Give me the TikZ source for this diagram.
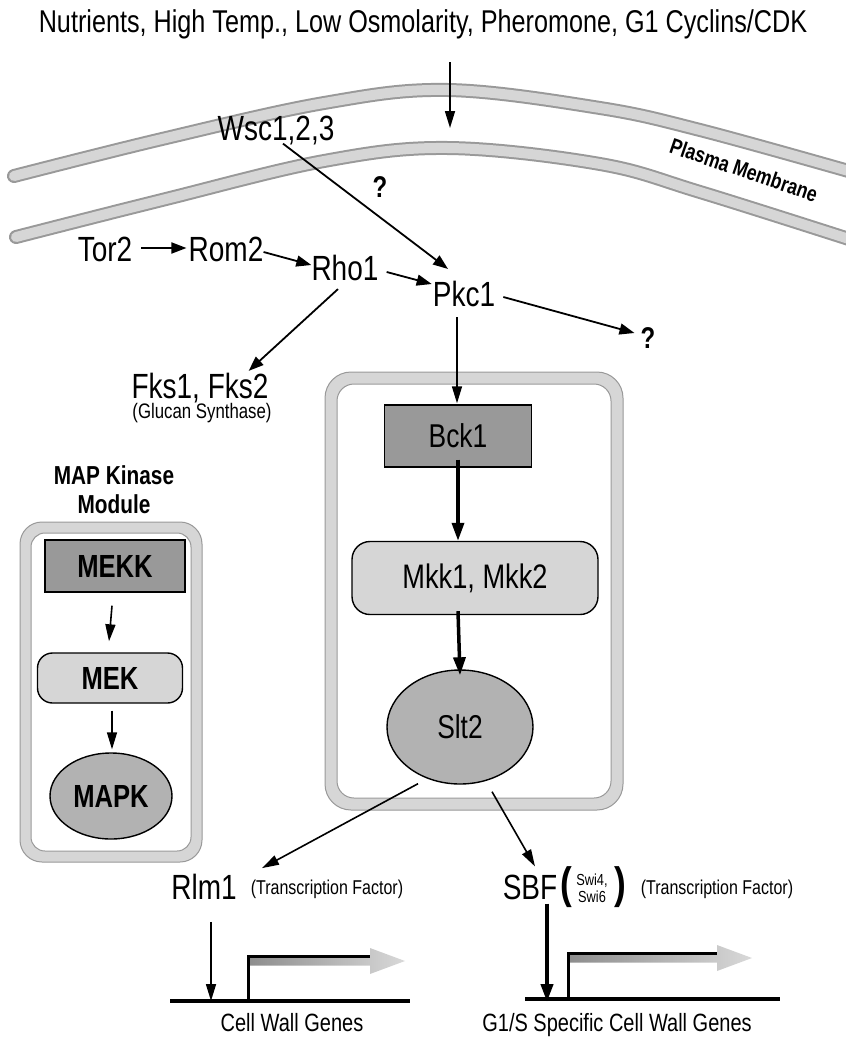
\documentclass[tikz,border=0pt]{standalone}
\usepackage{fontspec}
\setmainfont{Liberation Sans}[FakeStretch=0.8]
\usetikzlibrary{arrows.meta,shapes.geometric}
\definecolor{bandline}{gray}{0.60}
\definecolor{bandfill}{gray}{0.84}
\definecolor{darkfill}{gray}{0.60}
\definecolor{midfill}{gray}{0.70}
\definecolor{lightfill}{gray}{0.84}
\tikzset{
  lbl/.style={font=\fontsize{35}{37}\selectfont, inner sep=0pt},
  smalltxt/.style={font=\fontsize{20}{22}\selectfont, inner sep=0pt},
  genetxt/.style={font=\fontsize{25}{27}\selectfont, inner sep=0pt, anchor=base},
  qmark/.style={font=\bfseries\fontsize{30}{32}\selectfont, inner sep=0pt},
  arr/.style={-{Triangle[length=15pt,width=11pt]}, line width=1.8pt},
  thinarr/.style={-{Triangle[length=17pt,width=10pt]}, line width=1.6pt},
  thickarr/.style={-{Triangle[length=18pt,width=12pt]}, line width=3.5pt},
  membrane/.style={line cap=round},
  kinbox/.style={draw=black, line width=1.4pt, fill=darkfill, inner sep=0pt},
  kkbox/.style={draw=black, line width=1.4pt, fill=lightfill, inner sep=0pt},
  mapkell/.style={ellipse, draw=black, line width=1.4pt, fill=midfill, inner sep=0pt},
  modtitle/.style={font=\bfseries\fontsize{26}{29}\selectfont, align=center, inner sep=0pt},
  boldlbl/.style={font=\bfseries\fontsize{32}{34}\selectfont},
}
\begin{document}
\begin{tikzpicture}[x=1pt,y=-1pt]
\useasboundingbox (0,0) rectangle (846,1037);

% ---------------- membrane ----------------
\foreach \w/\c in {14/bandline, 10/bandfill}{
  \draw[membrane, line width=\w pt, color=\c] plot[smooth, tension=0.6] coordinates {(14,176) (162,139) (324,103) (448,90) (600,108) (700,130) (852,172)};
  \draw[membrane, line width=\w pt, color=\c] plot[smooth, tension=0.6] coordinates {(16,237) (162,200) (324,161) (448,148) (600,164) (700,192) (852,240)};
}
\node[font=\bfseries\fontsize{22}{24}\selectfont, rotate=-19, inner sep=0pt] (pm) at (744,170) {Plasma Membrane};

% ---------------- top ----------------
\node[font=\fontsize{31.5}{33}\selectfont, inner sep=0pt] (stim) at (423,24) {Nutrients, High Temp., Low Osmolarity, Pheromone, G1 Cyclins/CDK};
\coordinate (stimend) at (450,128);
\draw[thinarr] (stimend |- 0,62) -- (stimend);

\node[lbl] (wsc) at (276,131) {Wsc1,2,3};
\node[lbl] (tor2) at (105,249) {Tor2};
\node[lbl] (rom2) at (226,249) {Rom2};
\node[lbl] (rho1) at (345,268) {Rho1};
\node[lbl] (pkc1) at (464,294) {Pkc1};
\node[qmark] (q1) at (380,187) {?};
\node[qmark] (q2) at (648,338) {?};

\draw[arr] ([shift={(7,-2)}]wsc.south) -- ([shift={(-16,-12)}]pkc1.north);
\draw[arr] ([shift={(9,-1)}]tor2.east) -- ([shift={(-2,-1)}]rom2.west);
\draw[arr] ([shift={(0,3)}]rom2.east) -- ([shift={(0,-3)}]rho1.west);
\draw[arr] ([shift={(8,4)}]rho1.east) -- ([shift={(-1,-10)}]pkc1.west);
\draw[arr] ([shift={(8,3)}]pkc1.east) -- ([shift={(-6,-5)}]q2.west);

\node[lbl] (fks) at (200,388) {Fks1, Fks2};
\node[font=\fontsize{21}{23}\selectfont, inner sep=0pt] (gluc) at (202,413) {(Glucan Synthase)};
\draw[arr] ([shift={(-7,8)}]rho1.south) -- ([shift={(-20,-2)}]fks.north east);

% ---------------- Pkc1 module ----------------
\draw[draw=bandline, fill=bandfill, line width=1pt, rounded corners=26pt] (325,372) rectangle (623,810);
\draw[draw=bandline, fill=white, line width=1pt, rounded corners=17pt] (337,384) rectangle (611,798);

\node[kinbox, minimum width=147pt, minimum height=62pt, font=\fontsize{33}{35}\selectfont] (bck1) at (458,436) {Bck1};
\node[kkbox, minimum width=246pt, minimum height=73pt, rounded corners=18pt, font=\fontsize{34}{36}\selectfont] (mkk) at (475,578) {Mkk1, Mkk2};
\node[mapkell, minimum width=146pt, minimum height=114pt, font=\fontsize{33}{35}\selectfont] (slt2) at (460,727) {Slt2};

\draw[thinarr] ([shift={(-7,10)}]pkc1.south) -- ([shift={(-1,-1)}]bck1.north);
\draw[thickarr] ([yshift=8pt]bck1.south) -- (mkk.north -| bck1.south);
\draw[thickarr] ([yshift=4pt]mkk.south -| bck1.south) -- ([yshift=-6pt]slt2.north);

% ---------------- MAP kinase module ----------------
\node[modtitle] (modt) at (114,490) {MAP Kinase\\Module};
\draw[draw=bandline, fill=bandfill, line width=1pt, rounded corners=22pt] (20,522) rectangle (202,862);
\draw[draw=bandline, fill=white, line width=1pt, rounded corners=14pt] (31,533) rectangle (191,851);
\node[kinbox, boldlbl, minimum width=140pt, minimum height=52pt] (mekk) at (115,566) {MEKK};
\node[kkbox, boldlbl, minimum width=145pt, minimum height=50pt, rounded corners=15pt] (mek) at (110,678) {MEK};
\node[mapkell, boldlbl, minimum width=122pt, minimum height=86pt] (mapk) at (111,796) {MAPK};
\draw[thinarr] ([shift={(-3,13)}]mekk.south) -- ([shift={(-1,-11)}]mek.north);
\draw[thinarr] ([shift={(2,7)}]mek.south) -- ([shift={(1,-3)}]mapk.north);

% ---------------- transcription factors ----------------
\node[lbl] (rlm1) at (204,887) {Rlm1};
\node[smalltxt] (tf1) at (327,889) {(Transcription Factor)};
\node[lbl] (sbf) at (530,887) {SBF};
\node[font=\bfseries\fontsize{44}{46}\selectfont, inner sep=0pt] (lp) at (566,887) {(};
\node[font=\fontsize{16}{17}\selectfont, inner sep=0pt, align=center] (swi) at (592,888) {Swi4,\\Swi6};
\node[font=\bfseries\fontsize{44}{46}\selectfont, inner sep=0pt] (rp) at (620,887) {)};
\node[smalltxt] (tf2) at (717,889) {(Transcription Factor)};

\draw[thinarr] ([shift={(-42,-1)}]slt2.south) -- ([shift={(58,-6)}]rlm1.north);
\draw[thinarr] ([shift={(32,7)}]slt2.south) -- ([shift={(5,-8)}]sbf.north);

% ---------------- genes ----------------
\coordinate (g1a) at (170,1001);
\coordinate (g1b) at (410,1001);
\coordinate (g2a) at (525,999);
\coordinate (g2b) at (780,999);
\draw[line width=4pt] (g1a) -- (g1b);
\draw[line width=4pt] (g2a) -- (g2b);

\draw[thinarr] ([shift={(7,22)}]rlm1.south) -- (g1a -| 211,0);
\draw[thickarr, line width=4pt] ([shift={(17,4)}]sbf.south) -- ([yshift=-3pt]g2a -| 547,0);

% bent arrows
\foreach \x/\y/\t in {248/961/405, 568/958/752}{
  \shade[left color=gray!90, right color=gray!30] (\x,\y-4.5) -- (\t-35,\y-4.5) -- (\t-35,\y-13) -- (\t,\y) -- (\t-35,\y+13) -- (\t-35,\y+4.5) -- (\x,\y+4.5) -- cycle;
  \draw[line width=3pt] (\x,1000) -- (\x,\y-4.5) -- (\t-35,\y-4.5);
}

\node[genetxt] (cwg) at (292,1031) {Cell Wall Genes};
\node[genetxt] (g1s) at (617,1031) {G1/S Specific Cell Wall Genes};
\end{tikzpicture}
\end{document}
